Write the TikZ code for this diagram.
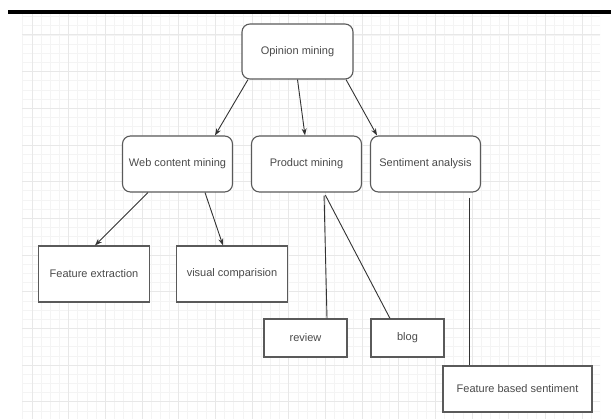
\documentclass[tikz,border=0pt]{standalone}
\usepackage{fontspec}
\setmainfont{Liberation Sans}
\usepackage{xcolor}
\usepackage{tikz}
\usetikzlibrary{positioning, arrows.meta}
\definecolor{boxgray}{HTML}{5A5A5A}
\definecolor{linegray}{HTML}{333333}
\definecolor{textgray}{HTML}{4A4A4A}
\definecolor{minorgray}{HTML}{F4F4F4}
\definecolor{majorgray}{HTML}{E8E8E8}
\tikzstyle{roundbox} = [rectangle, rounded corners=8pt, minimum width=110pt, minimum height=56pt, text centered, draw=boxgray, line width=1.1pt, fill=white]
\tikzstyle{plainbox} = [rectangle, minimum width=111pt, minimum height=56pt, text centered, draw=boxgray, line width=1.1pt, fill=white]
\tikzstyle{arrow} = [line width=0.9pt, draw=linegray, -{Stealth[length=7pt,width=5pt]}]
\tikzstyle{link} = [line width=0.9pt, draw=linegray, shorten <=3pt]
\tikzstyle{every node}=[font=\fontsize{11}{13}\selectfont, text=textgray]

\begin{document}
\begin{tikzpicture}[x=1pt, y=1pt, node distance=112.5pt]
		\useasboundingbox (0,0) rectangle (611,-419);
		%背景网格
		\begin{scope}
			\clip (22,-15) rectangle (600,-419);
			\draw[minorgray, line width=0.8pt, xshift=32pt, yshift=-35pt, step=9.17pt] (-20,30) grid (580,-400);
			\draw[majorgray, line width=1pt, xshift=32pt, yshift=-35pt, step=36.68pt] (-20,30) grid (580,-400);
		\end{scope}
		\draw[black, line width=3.5pt] (8,-12) -- (611,-12);
		
		%定义具体形状
		\node (opinion) [roundbox, minimum width=111pt, minimum height=55pt] at (297.5,-51.5) {Opinion mining};
		\node (web) [roundbox, below of=opinion, xshift=-120pt] {Web content mining};
		\node (product) [roundbox, below of=opinion, xshift=9pt] {Product mining};
		\node (sentiment) [roundbox, below of=opinion, xshift=128pt] {Sentiment analysis};
		
		\node (feature) [plainbox, below of=web, xshift=-83.5pt, yshift=2.5pt] {Feature extraction};
		\node (visual) [plainbox, below of=web, xshift=54.5pt, yshift=2.5pt] {visual comparision};
		\node (review) [plainbox, minimum width=83pt, minimum height=38pt, below of=product, xshift=-1pt, yshift=-61.5pt] {review};
		\node (blog) [plainbox, minimum width=73pt, minimum height=38pt, below of=product, xshift=101pt, yshift=-61.5pt] {blog};
		\node (based) [plainbox, minimum width=149pt, minimum height=46pt, below of=sentiment, xshift=92pt, yshift=-112.5pt] {Feature based sentiment};
		
		%连接具体形状
		\draw [arrow]([xshift=-49.5pt]opinion.south) -- ([xshift=37.5pt]web.north);
		\draw [arrow](opinion.south) -- ([xshift=-1.5pt]product.north);
		\draw [arrow]([xshift=48.5pt]opinion.south) -- ([xshift=-48.5pt]sentiment.north);
		\draw [arrow]([xshift=-29.5pt]web.south) -- ([xshift=1pt]feature.north);
		\draw [arrow]([xshift=27.5pt]web.south) -- ([xshift=-9pt]visual.north);
		\draw [link]([xshift=17.5pt]product.south) -- ([xshift=21.5pt]review.north);
		\draw [link]([xshift=17.5pt]product.south) -- ([xshift=-17.5pt]blog.north);
		\draw [link]([xshift=43.5pt, yshift=-2pt]sentiment.south) -- ([xshift=-48.5pt]based.north);
		
	\end{tikzpicture}
\end{document}
